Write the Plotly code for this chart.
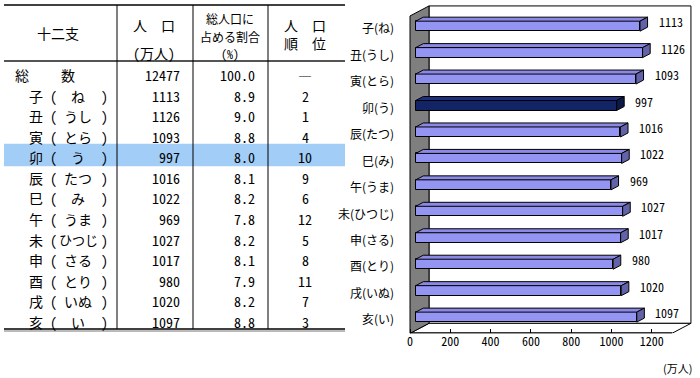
import plotly.graph_objects as go

# ---------------- data ----------------
kanji = ["子", "丑", "寅", "卯", "辰", "巳", "午", "未", "申", "酉", "戌", "亥"]
yomi = ["ね", "うし", "とら", "う", "たつ", "み", "うま", "ひつじ", "さる", "とり", "いぬ", "い"]
pop = [1113, 1126, 1093, 997, 1016, 1022, 969, 1027, 1017, 980, 1020, 1097]
share = [8.9, 9.0, 8.8, 8.0, 8.1, 8.2, 7.8, 8.2, 8.1, 7.9, 8.2, 8.8]
rank = [2, 1, 4, 10, 9, 6, 12, 5, 8, 11, 7, 3]
total_name = ["総", "数"]
total_pop = 12477
total_share = 100.0
total_rank = "―"
highlight = "卯"
axis_ticks = [0, 200, 400, 600, 800, 1000, 1200]
axis_max = 1300
unit_label = "(万人)"
hdr_name = ["十二支"]
hdr_pop = ["人　口", "(万人)"]
hdr_share = ["総人口に", "占める割合", "(%)"]
hdr_rank = ["人　口", "順　位"]

# ---------------- geometry (pixels) ----------------
W, H = 700, 378
TFONT = "Noto Sans Mono CJK JP, Noto Sans CJK JP, sans-serif"
CFONT = "Noto Sans CJK JP, sans-serif"
NFONT = "Noto Sans Mono CJK JP, Noto Sans CJK JP, sans-serif"

S = 0.2015          # px per 万人
R = 26.45           # px per category
XF0, YF0 = 410.0, 29.16   # front plane origin (u=0, i=0)
DX, DY = 19.0, -10.0      # full depth offset in px
FB0, FB1 = 0.30, 0.70     # bar depth (fraction)
BAR_W = 0.378

PX0 = XF0 + DX * FB0
PY0 = YF0 + DY * FB0
n = len(kanji)
PL, PR, PT = 398.0, 699.0, 0.0
PB = YF0 + R * (n - 0.5)

def dV(f):
    return (f - FB0) * DX / S

def dI(f):
    return (f - FB0) * DY / R

xr = [(PL - PX0) / S, (PR - PX0) / S]
yr = [(PB - PY0) / R, (PT - PY0) / R]

def P(u, i, f):
    return u + dV(f), i + dI(f)

fig = go.Figure()

# ---------------- walls & floor ----------------
def path(pts):
    return "M " + " L ".join(f"{x},{y}" for x, y in pts) + " Z"

lo, hi = -0.5, n - 0.5
left_wall = [P(0, hi, 0), P(0, hi, 1), P(0, lo, 1), P(0, lo, 0)]
back_wall = [P(0, lo, 1), P(axis_max, lo, 1), P(axis_max, hi, 1), P(0, hi, 1)]
floor = [P(0, hi, 0), P(axis_max, hi, 0), P(axis_max, hi, 1), P(0, hi, 1)]
shapes = [
    dict(type="path", path=path(back_wall), xref="x", yref="y", layer="below",
         fillcolor="white", line=dict(color="black", width=1)),
    dict(type="path", path=path(floor), xref="x", yref="y", layer="below",
         fillcolor="white", line=dict(color="black", width=1)),
    dict(type="path", path=path(left_wall), xref="x", yref="y", layer="below",
         fillcolor="#7f7f7f", line=dict(color="black", width=1)),
]
fx0, fy0 = P(0, hi, 0)
fx1, fy1 = P(axis_max, hi, 0)
shapes.append(dict(type="line", x0=fx0, y0=fy0, x1=fx1, y1=fy1, xref="x", yref="y",
                   line=dict(color="black", width=2)))

# ---------------- bars ----------------
idx = list(range(n))
front_col = ["#122466" if k == highlight else "#9494f2" for k in kanji]
top_col = ["#1c2f7a" if k == highlight else "#8a8ae6" for k in kanji]
side_col = ["#0c1848" if k == highlight else "#6262a8" for k in kanji]

fig.add_trace(go.Bar(x=pop, y=idx, orientation="h", width=BAR_W, base=0,
                     marker=dict(color=front_col, line=dict(color="black", width=1)),
                     hoverinfo="skip", showlegend=False))

ddx = dV(FB1) - dV(FB0)
ddy = dI(FB1) - dI(FB0)
for i, v in enumerate(pop):
    yt = i - BAR_W / 2
    yb = i + BAR_W / 2
    top = [(0, yt), (v, yt), (v + ddx, yt + ddy), (ddx, yt + ddy), (0, yt)]
    side = [(v, yt), (v + ddx, yt + ddy), (v + ddx, yb + ddy), (v, yb), (v, yt)]
    for poly, c in ((top, top_col[i]), (side, side_col[i])):
        fig.add_trace(go.Scatter(x=[p[0] for p in poly], y=[p[1] for p in poly],
                                 mode="lines", fill="toself", fillcolor=c,
                                 line=dict(color="black", width=1),
                                 hoverinfo="skip", showlegend=False))

annotations = []
for i, v in enumerate(pop):
    annotations.append(dict(x=v + ddx + 9 / S, y=i - 0.17, xref="x", yref="y",
                            text=str(v), showarrow=False, xanchor="left", yanchor="middle",
                            font=dict(family=NFONT, size=12, color="black")))

annotations.append(dict(x=677 / W, y=1 - 368 / H, xref="paper", yref="paper",
                        text=unit_label, showarrow=False, xanchor="center", yanchor="middle",
                        font=dict(family=CFONT, size=11, color="black")))

# ---------------- table ----------------
def xp(px):
    return px / W

def yp(py):
    return 1 - py / H

ROW0, ROWH = 75.0, 20.58
T_L, T_R, T_TOP, T_BOT = 4, 345, 5, 329
VLINES = [117, 193, 268]
hi_row = kanji.index(highlight) + 1
hy = ROW0 + ROWH * hi_row
shapes.append(dict(type="rect", xref="paper", yref="paper", x0=xp(T_L), x1=xp(T_R),
                   y0=yp(hy - 13.5), y1=yp(hy + 9), fillcolor="#a2cdf6",
                   line=dict(width=0), layer="below"))
shapes.append(dict(type="line", xref="paper", yref="paper", x0=xp(T_L), x1=xp(T_R),
                   y0=yp(T_TOP), y1=yp(T_TOP), line=dict(color="black", width=1.3)))
shapes.append(dict(type="line", xref="paper", yref="paper", x0=xp(T_L), x1=xp(T_R),
                   y0=yp(61), y1=yp(61), line=dict(color="#555555", width=2)))
shapes.append(dict(type="line", xref="paper", yref="paper", x0=xp(T_L), x1=xp(T_R),
                   y0=yp(T_BOT), y1=yp(T_BOT), line=dict(color="black", width=1.5)))
shapes.append(dict(type="line", xref="paper", yref="paper", x0=xp(T_L), x1=xp(T_R),
                   y0=yp(T_BOT + 2), y1=yp(T_BOT + 2), line=dict(color="#777777", width=1)))
for vx in VLINES:
    shapes.append(dict(type="line", xref="paper", yref="paper", x0=xp(vx), x1=xp(vx),
                       y0=yp(T_TOP), y1=yp(T_BOT), line=dict(color="black", width=1)))

def txt(px, py, s, anchor="center", size=14):
    annotations.append(dict(x=xp(px), y=yp(py), xref="paper", yref="paper", text=s,
                            showarrow=False, xanchor=anchor, yanchor="middle",
                            font=dict(family=TFONT, size=size, color="black")))

# header
txt(58, 33, hdr_name[0])
txt(154, 25, hdr_pop[0]); txt(154, 53, hdr_pop[1])
for s_, yy in zip(hdr_share, [18.5, 36, 53.5]):
    txt(230, yy, s_, size=12)
txt(305, 34, "<br>".join(hdr_rank))

# total row
txt(22.5, ROW0, total_name[0]); txt(68, ROW0, total_name[1])
txt(182, ROW0, str(total_pop), "right")
txt(257, ROW0, f"{total_share:.1f}", "right")
txt(305, ROW0, total_rank)

for i in range(n):
    y = ROW0 + ROWH * (i + 1)
    txt(35.5, y, kanji[i])
    txt(53, y, "(")
    txt(78, y, yomi[i], size=14 if len(yomi[i]) < 3 else 13)
    txt(104, y, ")")
    txt(182, y, str(pop[i]), "right")
    txt(257, y, f"{share[i]:.1f}", "right")
    txt(305, y, str(rank[i]))

# ---------------- layout ----------------
cat_labels = [f"{k}({y})" for k, y in zip(kanji, yomi)]
fig.update_layout(
    width=W, height=H, margin=dict(l=0, r=0, t=0, b=0),
    paper_bgcolor="white", plot_bgcolor="rgba(0,0,0,0)",
    bargap=0, showlegend=False, hovermode=False,
    xaxis=dict(domain=[PL / W, PR / W], range=xr, visible=False, fixedrange=True),
    xaxis2=dict(domain=[PL / W, PR / W], overlaying="x", anchor="y", side="bottom",
                range=[xr[0] - dV(0), xr[1] - dV(0)], tickvals=axis_ticks,
                ticktext=[str(t) for t in axis_ticks], ticks="inside", ticklen=4,
                tickcolor="black", showgrid=False, zeroline=False, showline=False,
                tickfont=dict(family=NFONT, size=12, color="black")),
    yaxis=dict(domain=[1 - PB / H, 1 - PT / H], range=yr, tickvals=[i + dI(0) for i in idx],
               ticktext=cat_labels, ticks="", showgrid=False, zeroline=False, showline=False,
               ticklabelstandoff=3, tickfont=dict(family=CFONT, size=12, color="black")),
    shapes=shapes, annotations=annotations,
)
fig.add_trace(go.Scatter(x=[None], y=[None], xaxis="x2", yaxis="y", showlegend=False,
                         hoverinfo="skip"))
fig.write_html("out.html", config={"displayModeBar": False},
               post_script="document.body.style.margin='0';")
